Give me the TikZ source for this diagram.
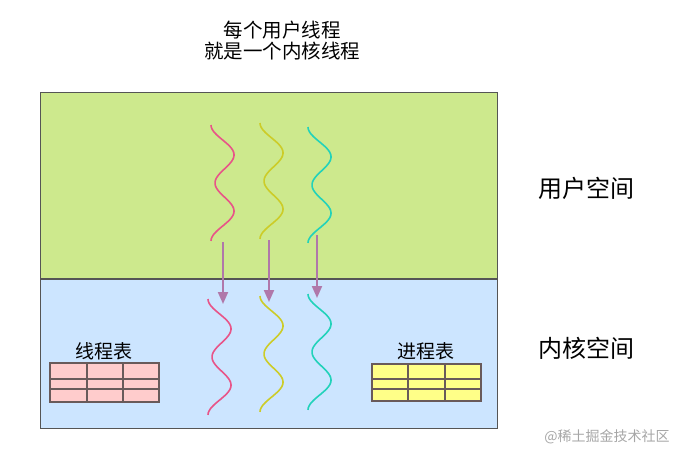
\documentclass[tikz,border=0pt]{standalone}
\usepackage{fontspec}
\setmainfont{Noto Sans CJK SC}
\usetikzlibrary{positioning,arrows.meta,calc}
\definecolor{userspace}{RGB}{205,233,141}
\definecolor{kernelspace}{RGB}{204,229,255}
\definecolor{boxline}{RGB}{85,85,85}
\definecolor{threadpink}{RGB}{232,84,136}
\definecolor{threadyellow}{RGB}{204,204,40}
\definecolor{threadcyan}{RGB}{34,210,186}
\definecolor{mapping}{RGB}{176,120,170}
\definecolor{tablepink}{RGB}{255,204,204}
\definecolor{tableyellow}{RGB}{255,255,136}
\definecolor{tableline}{RGB}{105,90,90}
\tikzset{
    space/.style = {
        draw=boxline,
        line width=1pt
    },
    thread/.pic = {
        \draw[line width=1.6pt] plot[variable=\t, domain=0:1, samples=60]
            ({11+11*sin(720*\t-90)+4*(sin(180*\t))^4}, {116*\t});
    },
    mapto/.style = {
        draw=mapping,
        line width=2pt,
        -{Triangle[width=10pt,length=12pt]}
    },
    grid line/.style = {
        draw=tableline,
        line width=1.3pt
    },
    title/.style = {
        font=\fontsize{19.5}{21}\selectfont,
        align=center
    },
    spacelabel/.style = {
        font=\fontsize{24}{26}\selectfont
    },
    tablelabel/.style = {
        font=\fontsize{19}{20}\selectfont
    },
}

\begin{document}
\begin{tikzpicture}[x=1pt, y=-1pt]

    \useasboundingbox (0,0) rectangle (686,458);

    % the two spaces
    \fill[userspace] (40,92) rectangle (497,279);
    \fill[kernelspace] (40,279) rectangle (497,428);
    \draw[space] (40,92) rectangle (497,428);
    \draw[space, line width=1.5pt] (40,279) -- (497,279);

    \node[title] (heading) at (282,41) {每个用户线程\\就是一个内核线程};
    \node[spacelabel] (userlabel) at (586,188) {用户空间};
    \node[spacelabel] (kernellabel) at (586,348) {内核空间};

    % user threads
    \pic[color=threadpink] at (211,125) {thread};
    \pic[color=threadyellow] at (260,123) {thread};
    \pic[color=threadcyan] at (308,127) {thread};

    % kernel threads
    \pic[color=threadpink] at (208,299) {thread};
    \pic[color=threadyellow] at (260,296) {thread};
    \pic[color=threadcyan] at (308,294) {thread};

    \coordinate (pink_top) at (223,242);
    \coordinate (pink_bot) at (223,304);
    \coordinate (yellow_top) at (269,240);
    \coordinate (yellow_bot) at (269,302);
    \coordinate (cyan_top) at (317,235);
    \coordinate (cyan_bot) at (317,298);

    \path[mapto] (pink_top) -- (pink_bot);
    \path[mapto] (yellow_top) -- (yellow_bot);
    \path[mapto] (cyan_top) -- (cyan_bot);

    % thread table
    \node[tablelabel] (threadlabel) at (104,351) {线程表};
    \fill[tablepink] (50,363) rectangle (159,402);
    \foreach \y in {379,389} \draw[grid line] (50,\y) -- (159,\y);
    \foreach \x in {87,123} \draw[grid line] (\x,363) -- (\x,402);
    \draw[grid line] (50,363) rectangle (159,402);

    % process table
    \node[tablelabel] (processlabel) at (426,351) {进程表};
    \fill[tableyellow] (372,364) rectangle (481,401);
    \foreach \y in {379,389} \draw[grid line] (372,\y) -- (481,\y);
    \foreach \x in {408,445} \draw[grid line] (\x,364) -- (\x,401);
    \draw[grid line] (372,364) rectangle (481,401);

    \node[font=\fontsize{14}{16}\selectfont, text=black!35] (mark) at (607,437) {@稀土掘金技术社区};

\end{tikzpicture}
\end{document}
